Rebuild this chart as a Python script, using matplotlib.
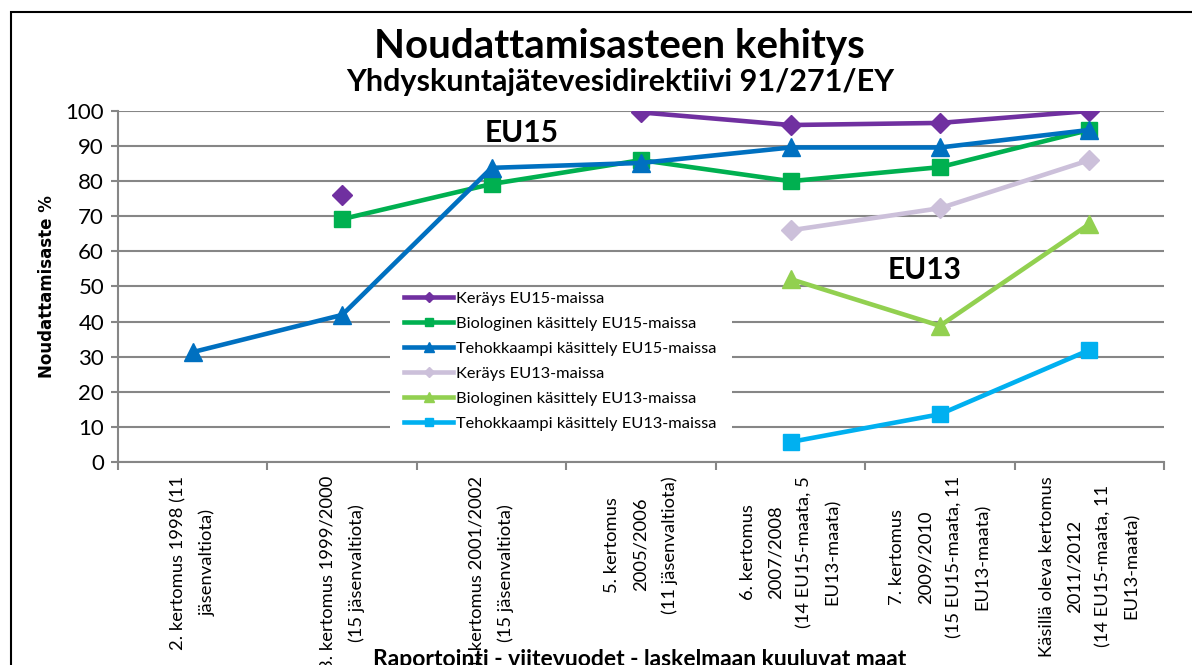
import numpy as np
from matplotlib import pyplot as plt
from matplotlib.patches import Rectangle

plt.rcParams['font.family'] = ['Lato', 'DejaVu Sans']

categories = [
    "2. kertomus 1998 (11\njäsenvaltiota)",
    "3. kertomus 1999/2000\n(15 jäsenvaltiota)",
    "4. kertomus 2001/2002\n(15 jäsenvaltiota)",
    "5. kertomus\n2005/2006\n(11 jäsenvaltiota)",
    "6. kertomus\n2007/2008\n(14 EU15-maata, 5\nEU13-maata)",
    "7. kertomus\n2009/2010\n(15 EU15-maata, 11\nEU13-maata)",
    "Käsillä oleva kertomus\n2011/2012\n(14 EU15-maata, 11\nEU13-maata)",
]

nan = np.nan
kerays_eu15 = [nan, 76, nan, 99.6, 96, 96.6, 100]
bio_eu15 = [nan, 69.2, 79.2, 86, 80, 84, 94.6]
teho_eu15 = [31.3, 41.9, 83.8, 85.2, 89.6, 89.6, 94.6]
kerays_eu13 = [nan, nan, nan, nan, 66, 72.3, 86]
bio_eu13 = [nan, nan, nan, nan, 52.1, 38.8, 67.8]
teho_eu13 = [nan, nan, nan, nan, 5.7, 13.6, 31.9]

series = [
    ("Keräys EU15-maissa", kerays_eu15, '#7030A0', 'D', 10),
    ("Biologinen käsittely EU15-maissa", bio_eu15, '#00B050', 's', 12),
    ("Tehokkaampi käsittely EU15-maissa", teho_eu15, '#0070C0', '^', 13),
    ("Keräys EU13-maissa", kerays_eu13, '#CCC0DA', 'D', 10),
    ("Biologinen käsittely EU13-maissa", bio_eu13, '#92D050', '^', 13),
    ("Tehokkaampi käsittely EU13-maissa", teho_eu13, '#00B0F0', 's', 12),
]

grid_col = '#868686'

fig = plt.figure(figsize=(11.92, 6.65), dpi=100)
ax = fig.add_axes([0.099, 0.3053, 0.8776, 0.5278])

x = np.arange(len(categories))
for name, vals, col, mk, ms in series:
    ax.plot(x, vals, color=col, lw=3.3, marker=mk, ms=ms, label=name,
            solid_joinstyle='round', zorder=3)

ax.set_xlim(-0.5, len(categories) - 0.5)
ax.set_ylim(0, 100)
ax.set_yticks(range(0, 101, 10))
ax.yaxis.grid(True, color=grid_col, lw=1.5, zorder=0)
ax.set_axisbelow(True)
for s in ['top', 'right']:
    ax.spines[s].set_visible(False)
for s in ['left', 'bottom']:
    ax.spines[s].set_color(grid_col)
    ax.spines[s].set_linewidth(1.5)
ax.tick_params(axis='y', labelsize=16, length=5, color=grid_col, width=1.5, pad=5)

ax.set_xticks(np.arange(-0.5, len(categories)))
ax.set_xticklabels([])
ax.tick_params(axis='x', which='major', length=6, color=grid_col, width=1.5)
ax.set_xticks(x, minor=True)
ax.set_xticklabels(categories, minor=True, rotation=90, fontsize=13.2,
                   ha='center', va='top', multialignment='center',
                   linespacing=1.95)
ax.tick_params(axis='x', which='minor', length=0, pad=10)

ax.set_ylabel("Noudattamisaste %", fontsize=12, fontweight='bold',
              family=['Liberation Sans Narrow', 'DejaVu Sans'], labelpad=7)
fig.text(0.537, 0.008, "Raportointi - viitevuodet - laskelmaan kuuluvat maat",
         fontsize=16.5, fontweight='bold', ha='center', va='center')

fig.text(0.52, 0.93, "Noudattamisasteen kehitys", fontsize=29,
         fontweight='bold', ha='center', va='center')
fig.text(0.52, 0.876, "Yhdyskuntajätevesidirektiivi 91/271/EY", fontsize=22,
         fontweight='bold', ha='center', va='center')

ax.text(2.2, 93.7, "EU15", fontsize=21.5, fontweight='bold', ha='center', va='center')
ax.text(4.9, 54.7, "EU13", fontsize=21.5, fontweight='bold', ha='center', va='center')

# white area behind the legend, hides the gridlines there
ax.add_patch(Rectangle((0.26, 0.048), 0.327, 0.443, transform=ax.transAxes,
                       facecolor='white', edgecolor='none', zorder=1))

leg = ax.legend(loc='upper left', bbox_to_anchor=(0.265, 0.512), fontsize=11.8,
                frameon=False, handlelength=3.0, handletextpad=0.15,
                labelspacing=0.64, borderpad=0.05, markerscale=0.5)
leg.set_zorder(2)

fig.patches.append(Rectangle((0.009, -0.1), 1.2, 1.082, transform=fig.transFigure,
                             fill=False, edgecolor='black', lw=1.5))

fig.savefig('out.png', dpi=100)
